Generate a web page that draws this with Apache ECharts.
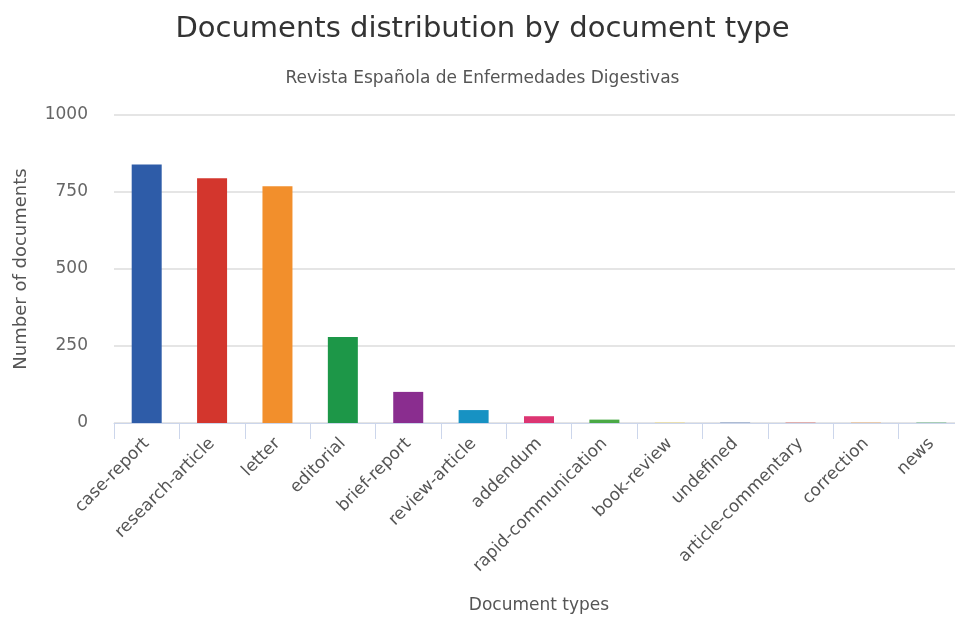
<!DOCTYPE html>
<html><head><meta charset="utf-8">
<script src="https://cdn.jsdelivr.net/npm/echarts@6/dist/echarts.min.js"></script>
<style>html,body{margin:0;padding:0;background:#fff;overflow:hidden;width:955px;height:617px}#c{width:965px;height:617px}</style>
</head><body><div id="c"></div>
<script>
const categories = ["case-report","research-article","letter","editorial","brief-report","review-article","addendum","rapid-communication","book-review","undefined","article-commentary","correction","news"];
const docCounts = [839, 795, 769, 279, 101, 42, 22, 11, 1, 1, 1, 1, 1];
const barColors = ["#2e5ca8","#d3362d","#f28f2c","#1d9748","#8a2d8f","#1792c3","#dc3572","#4aa945","#f6d03a","#2e5ca8","#d3362d","#f28f2c","#1d9748"];
const yTicks = [0, 250, 500, 750, 1000];

const F = 'DejaVu Sans';
const chart = echarts.init(document.getElementById('c'));
chart.setOption({
  animation: false,
  title: [
    {text: 'Documents distribution by document type', left: 'center', top: 10,
     textStyle: {fontFamily: F, fontSize: 29, fontWeight: 'normal', color: '#333'}},
    {text: 'Revista Española de Enfermedades Digestivas', left: 'center', top: 65,
     textStyle: {fontFamily: F, fontSize: 17, fontWeight: 'normal', color: '#555'}}
  ],
  grid: {left: 114, right: 1, top: 115, bottom: 194, containLabel: false},
  xAxis: {
    type: 'category', data: categories,
    name: 'Document types', nameLocation: 'middle', nameGap: 174,
    nameTextStyle: {fontFamily: F, fontSize: 17, color: '#555'},
    axisLine: {lineStyle: {color: '#ccd6eb', width: 1}},
    axisTick: {show: true, length: 16, lineStyle: {color: '#ccd6eb'}},
    axisLabel: {rotate: 45, fontFamily: F, fontSize: 17, color: '#555', margin: 18, interval: 0}
  },
  yAxis: {
    type: 'value', min: yTicks[0], max: yTicks[yTicks.length-1], interval: 250,
    name: 'Number of documents', nameLocation: 'middle', nameGap: 84,
    nameTextStyle: {fontFamily: F, fontSize: 18, color: '#555'},
    axisLine: {show: false}, axisTick: {show: false},
    axisLabel: {fontFamily: F, fontSize: 17, color: '#666', margin: 26, formatter: v => String(v)},
    splitLine: {lineStyle: {color: '#dcdcdc', width: 1.5}}
  },
  series: [{
    type: 'bar', barWidth: 30,
    data: docCounts.map((v, i) => ({value: v, itemStyle: {color: barColors[i]}}))
  }]
});
</script></body></html>
